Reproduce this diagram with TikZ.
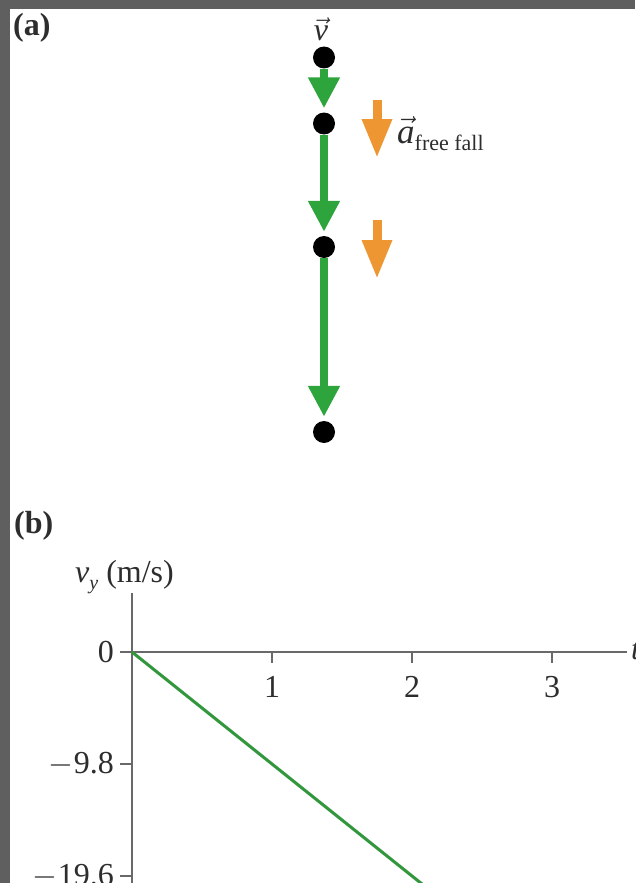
\RequirePackage{fix-cm}
\documentclass[tikz,border=0pt]{standalone}
\usepackage{fontspec}
\setmainfont{Liberation Serif}
\usetikzlibrary{arrows.meta}
\definecolor{frame}{RGB}{95,95,95}
\definecolor{vgreen}{RGB}{45,165,60}
\definecolor{lgreen}{RGB}{50,150,60}
\definecolor{aorange}{RGB}{238,150,50}
\definecolor{axisgray}{RGB}{105,105,105}
\definecolor{ink}{RGB}{45,45,45}
\begin{document}
\begin{tikzpicture}[x=1pt,y=-1pt,
  dot/.style={circle,fill=black,inner sep=0pt,minimum size=22pt},
  varrow/.style={draw=vgreen,fill=vgreen,line width=8pt,-{Triangle[length=31pt,width=30pt]},shorten >=4pt},
  aarrow/.style={draw=aorange,fill=aorange,line width=9pt,-{Triangle[length=39pt,width=28pt]}},
  lbl/.style={text=ink,font=\fontsize{32}{36}\selectfont,inner sep=0pt},
  axisline/.style={draw=axisgray,line width=2.5pt},
  tickline/.style={draw=axisgray,line width=2pt}]
\useasboundingbox (0,0) rectangle (635,883);
\clip (0,0) rectangle (635,883);
\fill[white] (0,0) rectangle (635,883);
\fill[frame] (0,0) rectangle (635,9);
\fill[frame] (0,0) rectangle (10,883);

% ---------- (a) motion diagram ----------
\node[lbl,anchor=base west,font=\fontsize{32}{36}\selectfont\bfseries] (la) at (13,36) {(a)};
\node[lbl,anchor=base,font=\fontsize{32}{36}\selectfont] (vlabel) at (321,41) {$\vec{\mbox{\itshape v}}$};

\node[dot] (d1) at (324,57.5) {};
\node[dot] (d2) at (324,123.5) {};
\node[dot] (d3) at (324,247) {};
\node[dot] (d4) at (324,432) {};
\draw[varrow] (d1) -- (d2);
\draw[varrow] (d2) -- (d3);
\draw[varrow] (d3) -- (d4);

\coordinate (o1s) at (377,100);
\coordinate (o1e) at (377,158);
\coordinate (o2s) at (377,220);
\coordinate (o2e) at (377,279);
\draw[aarrow] (o1s) -- (o1e);
\draw[aarrow] (o2s) -- (o2e);
\node[lbl,anchor=base west,font=\fontsize{35}{38}\selectfont] (alabel) at (397,143) {$\vec{\mbox{\itshape a}}$\raisebox{-7pt}{\fontsize{22}{22}\selectfont free fall}};

% ---------- (b) graph ----------
\node[lbl,anchor=base west,font=\fontsize{32}{36}\selectfont\bfseries] (lb) at (14,533) {(b)};
\node[lbl,anchor=base west] (ylabel) at (75,582) {\textit{v}\raisebox{-7pt}{\fontsize{20}{20}\selectfont\itshape y}\ (m/s)};

\coordinate (O) at (132,652);
\coordinate (ytop) at (132,593);
\coordinate (ybot) at (132,900);
\coordinate (xend) at (627,652);
\draw[axisline] (ytop) -- (ybot);
\draw[axisline] (120,652) -- (xend);
\node[lbl,anchor=west] (tlabel) at (631,652) {\textit{t} (s)};

\foreach \i/\x in {1/272,2/412,3/552}{
  \coordinate (xt\i) at (\x,652);
  \draw[tickline] (xt\i) -- ++(0,11);
  \node[lbl,anchor=base] (xl\i) at (\x,697) {\i};
}
\foreach \n/\y/\t in {0/652/0,1/764/$-$9.8,2/876/$-$19.6}{
  \coordinate (yt\n) at (132,\y);
  \draw[tickline] (yt\n) -- ++(-12,0);
  \node[lbl,anchor=east] (yl\n) at (114,\y) {\t};
}
\coordinate (gend) at (426,887.2);
\draw[draw=lgreen,line width=3pt] (O) -- (gend);
\end{tikzpicture}
\end{document}
